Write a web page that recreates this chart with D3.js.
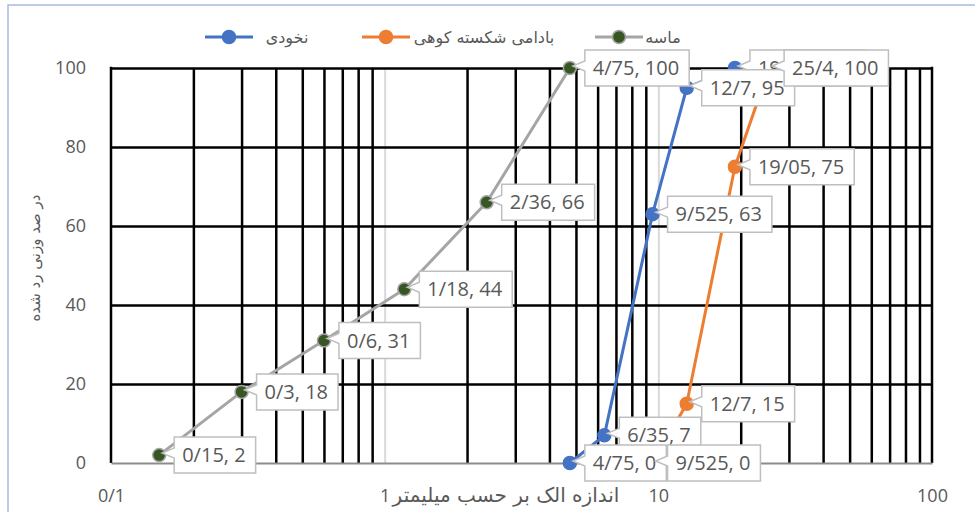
<!DOCTYPE html>
<html>
<head>
<meta charset="utf-8">
<script src="https://cdn.jsdelivr.net/npm/d3@7"></script>
<style>
  body { margin: 0; background: #fff; }
  svg text { font-family: "Open Sans", "DejaVu Sans", sans-serif; }
  .fa { font-family: "DejaVu Sans", sans-serif; }
</style>
</head>
<body>
<div id="mydiv"></div>
<script>
// data
const seriesNames = ['نخودی', 'بادامی شکسته کوهی', 'ماسه'];
const nokhodiX = [4.75, 6.35, 9.525, 12.7, 19.05];
const nokhodiY = [0, 7, 63, 95, 100];
const badamiX = [9.525, 12.7, 19.05, 25.4];
const badamiY = [0, 15, 75, 100];
const masehX = [0.15, 0.3, 0.6, 1.18, 2.36, 4.75];
const masehY = [2, 18, 31, 44, 66, 100];
const xTicks = [0.1, 1, 10, 100];
const yTicks = [0, 20, 40, 60, 80, 100];
const xTitle = 'اندازه الک بر حسب میلیمتر';
const yTitle = 'در صد وزنی رد شده';

const W = 975, H = 512;
const pLeft = 111, pRight = 932, pTop = 68, pBottom = 463;

const fmt = v => String(v).replace('.', '/');

const series = [
  {name: seriesNames[0], xs: nokhodiX, ys: nokhodiY, line: '#4472C4', fill: '#4472C4', stroke: '#4472C4'},
  {name: seriesNames[1], xs: badamiX, ys: badamiY, line: '#ED7D31', fill: '#ED7D31', stroke: '#ED7D31'},
  {name: seriesNames[2], xs: masehX, ys: masehY, line: '#A5A5A5', fill: '#375623', stroke: '#A5A5A5'}
];

const svg = d3.select('#mydiv')
  .append('svg')
  .attr('width', W)
  .attr('height', H)

// chart outer border
svg.append('rect')
  .attr('x', 8).attr('y', 5)
  .attr('width', 1000).attr('height', 600)
  .attr('fill', 'none')
  .attr('stroke', '#A7BBDF')
  .attr('stroke-width', 1.5)

const x = d3.scaleLog().domain([0.1, 100]).range([pLeft, pRight]);
const y = d3.scaleLinear().domain([0, 100]).range([pBottom, pTop]);

// vertical grid: minor (black) and decades 1, 10 (light grey)
const minor = [];
[0.1, 1, 10].forEach(d => { for (let k = 2; k <= 9; k++) minor.push(+(d * k).toPrecision(3)); });

svg.append('g')
  .attr('transform', `translate(0,${pBottom})`)
  .call(d3.axisBottom(x).tickValues(minor).tickSize(-(pBottom - pTop)).tickFormat(''))
  .call(g => g.select('.domain').remove())
  .call(g => g.selectAll('line').attr('stroke', '#000').attr('stroke-width', 2.5))

svg.append('g')
  .attr('transform', `translate(0,${pBottom})`)
  .call(d3.axisBottom(x).tickValues([1, 10]).tickSize(-(pBottom - pTop)).tickFormat(''))
  .call(g => g.select('.domain').remove())
  .call(g => g.selectAll('line').attr('stroke', '#D9D9D9').attr('stroke-width', 2))

// horizontal grid
svg.append('g')
  .attr('transform', `translate(${pLeft},0)`)
  .call(d3.axisLeft(y).tickValues(yTicks.slice(1)).tickSize(-(pRight - pLeft)).tickFormat(''))
  .call(g => g.select('.domain').remove())
  .call(g => g.selectAll('line').attr('stroke', '#000').attr('stroke-width', 2.5))

// left / right borders
svg.append('g').selectAll('line')
  .data([0.1, 100]).enter()
  .append('line')
  .attr('x1', d => x(d)).attr('x2', d => x(d))
  .attr('y1', pTop - 1.2).attr('y2', pBottom)
  .attr('stroke', '#000').attr('stroke-width', 2.5)

// x axis
svg.append('g')
  .attr('transform', `translate(0,${pBottom})`)
  .call(d3.axisBottom(x).tickValues(xTicks).tickSize(0).tickPadding(26).tickFormat(fmt))
  .call(g => g.select('.domain').attr('stroke', '#8C8C8C').attr('stroke-width', 2))
  .call(g => g.selectAll('text').attr('fill', '#595959').style('font-size', '18px').style('font-family', '"Open Sans", sans-serif'))

// y axis
svg.append('g')
  .attr('transform', `translate(${pLeft},0)`)
  .call(d3.axisLeft(y).tickValues(yTicks).tickSize(0).tickPadding(25))
  .call(g => g.select('.domain').remove())
  .call(g => g.selectAll('text').attr('fill', '#595959').style('font-size', '18px').style('font-family', '"Open Sans", sans-serif'))

// titles
svg.append('text')
  .attr('class', 'fa')
  .attr('x', 506).attr('y', 502)
  .attr('text-anchor', 'middle')
  .style('font-size', '20px')
  .attr('fill', '#595959')
  .text(xTitle)

svg.append('text')
  .attr('class', 'fa')
  .attr('transform', 'translate(40,258) rotate(-90)')
  .attr('text-anchor', 'middle')
  .style('font-size', '15px')
  .attr('fill', '#595959')
  .text(yTitle)

// lines
const line = d3.line().x(d => x(d[0])).y(d => y(d[1]));
series.forEach(s => {
  s.pts = s.xs.map((v, i) => [v, s.ys[i]]);
  svg.append('path')
    .datum(s.pts)
    .attr('d', line)
    .attr('fill', 'none')
    .attr('stroke', s.line)
    .attr('stroke-width', 3)
    .attr('stroke-linejoin', 'round')
});

// markers
series.forEach(s => {
  svg.append('g').selectAll('circle')
    .data(s.pts).enter()
    .append('circle')
    .attr('cx', d => x(d[0]))
    .attr('cy', d => y(d[1]))
    .attr('r', 6.5)
    .attr('fill', s.fill)
    .attr('stroke', s.stroke)
    .attr('stroke-width', 1.5)
});

// data label callouts (earlier points drawn on top within a series)
series.forEach(s => {
  const g = svg.append('g');
  s.pts.slice().reverse().forEach(d => {
    const px = x(d[0]), py = y(d[1]);
    const lg = g.append('g');
    const path = lg.append('path');
    const txt = lg.append('text')
      .attr('x', px + 23)
      .attr('y', py + 7)
      .attr('fill', '#595959')
      .style('font-size', '20px')
      .text(`${fmt(d[0])}, ${d[1]}`);
    const tw = txt.node().getComputedTextLength();
    const L = px + 15, T = py - 18, bw = tw + 18, bh = 36;
    path.attr('d', `M${L},${T}H${L + bw}V${T + bh}H${L}V${py + 3}L${px + 3},${py - 2}L${L},${py - 7}Z`)
      .attr('fill', '#fff')
      .attr('stroke', '#BFBFBF')
      .attr('stroke-width', 1.5)
  });
});

// legend
const legX = [205, 362, 595];
const legTx = [287, 484, 663];
series.forEach((s, i) => {
  const g = svg.append('g');
  g.append('line')
    .attr('x1', legX[i]).attr('x2', legX[i] + 48)
    .attr('y1', 37).attr('y2', 37)
    .attr('stroke', s.line).attr('stroke-width', 3)
  g.append('circle')
    .attr('cx', legX[i] + 24).attr('cy', 37).attr('r', 6.5)
    .attr('fill', s.fill).attr('stroke', s.stroke).attr('stroke-width', 1.5)
  g.append('text')
    .attr('class', 'fa')
    .attr('x', legTx[i]).attr('y', 43)
    .attr('text-anchor', 'middle')
    .attr('fill', '#595959')
    .style('font-size', '16px')
    .text(s.name)
});
</script>
</body>
</html>
